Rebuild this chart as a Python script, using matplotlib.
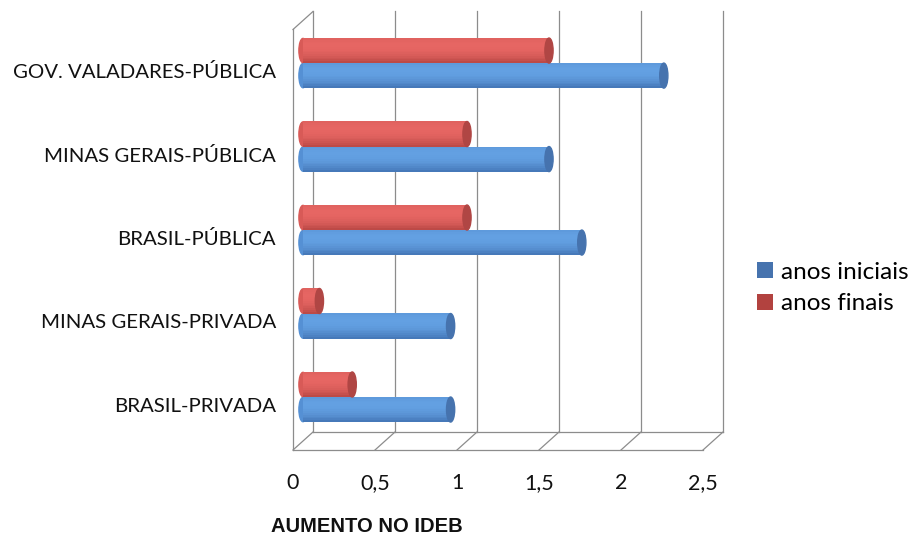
import matplotlib
matplotlib.use("Agg")
import matplotlib.pyplot as plt
import matplotlib.transforms as mtransforms
from matplotlib.patches import Ellipse, Patch
from matplotlib.lines import Line2D
import numpy as np

categories = [
    "BRASIL-PRIVADA",
    "MINAS GERAIS-PRIVADA",
    "BRASIL-PÚBLICA",
    "MINAS GERAIS-PÚBLICA",
    "GOV. VALADARES-PÚBLICA",
]
anos_iniciais = [0.9, 0.9, 1.7, 1.5, 2.2]
anos_finais = [0.3, 0.1, 1.0, 1.0, 1.5]
x_ticks = [0, 0.5, 1, 1.5, 2, 2.5]
x_tick_labels = ["0", "0,5", "1", "1,5", "2", "2,5"]
series_names = ["anos iniciais", "anos finais"]

BLUE_LIGHT, BLUE_DARK, BLUE_MID, BLUE_CAP = "#63A0E2", "#3E6EAE", "#5590D4", "#4673AE"
RED_LIGHT, RED_DARK, RED_MID, RED_CAP = "#E66663", "#B2423F", "#D85A57", "#B04644"
GRID = "#8c8c8c"
FONT = "Lato"

fig = plt.figure(figsize=(9.23, 5.36), dpi=100)
W, H = 923, 536
# axes = middle depth plane of the fake 3D box
ax = fig.add_axes([303 / W, (H - 441) / H, 410 / W, 420.5 / H])
ax.set_xlim(0, 2.5)
ax.set_ylim(-0.527, 4.51)
ax.axis("off")

back = ax.transData + mtransforms.ScaledTranslation(0.10, 0.09, fig.dpi_scale_trans)
front = ax.transData + mtransforms.ScaledTranslation(-0.10, -0.09, fig.dpi_scale_trans)
ylo, yhi = ax.get_ylim()

# back wall gridlines + floor edges
for xv in x_ticks:
    ax.plot([xv, xv], [ylo, yhi], color=GRID, lw=0.9, transform=back, clip_on=False)
ax.plot([0, 2.5], [ylo, ylo], color=GRID, lw=0.9, transform=back, clip_on=False)
ax.plot([0, 2.5], [ylo, ylo], color=GRID, lw=0.9, transform=front, clip_on=False)
ax.plot([0, 0], [ylo, yhi], color=GRID, lw=0.9, transform=front, clip_on=False)


def depth_line(xv, yv):
    p0 = front.transform((xv, yv))
    p1 = back.transform((xv, yv))
    fig.add_artist(Line2D([p0[0], p1[0]], [p0[1], p1[1]], color=GRID, lw=0.9,
                          transform=mtransforms.IdentityTransform()))


for xv in x_ticks:
    depth_line(xv, ylo)
depth_line(0, yhi)

# cylinder-like bars
bar_h = 0.3
n_strips = 14
cap_w = 0.05
y = np.arange(len(categories))


def cylinders(values, offset, light, dark, mid, cap):
    light_c = np.array(matplotlib.colors.to_rgb(light))
    dark_c = np.array(matplotlib.colors.to_rgb(dark))
    ys = y + offset
    for yc in ys:
        ax.add_patch(Ellipse((0, yc), cap_w, bar_h * 0.97, color=mid, zorder=3, clip_on=False))
    for i in range(n_strips):
        t = (i + 0.5) / n_strips  # 0 top .. 1 bottom
        f = max(0.0, 1 - ((t - 0.3) / 0.75) ** 2)
        col = dark_c + (light_c - dark_c) * f
        sy = ys + bar_h / 2 - (i + 0.5) * bar_h / n_strips
        ax.barh(sy, values, height=bar_h / n_strips * 1.05, color=col, lw=0, zorder=4)
    for yc, v in zip(ys, values):
        ax.add_patch(Ellipse((v, yc), cap_w, bar_h, color=cap, zorder=5))


cylinders(anos_iniciais, -bar_h / 2, BLUE_LIGHT, BLUE_DARK, BLUE_MID, BLUE_CAP)
cylinders(anos_finais, bar_h / 2, RED_LIGHT, RED_DARK, RED_MID, RED_CAP)

# category labels on the front plane
lab_tr = front + mtransforms.ScaledTranslation(-0.17, 0, fig.dpi_scale_trans)
for yi, name in zip(y, categories):
    ax.text(0, yi, name, transform=lab_tr, ha="right", va="center",
            fontsize=14.7, family=FONT, color="#111111")

# x tick labels below the front floor
tick_tr = front + mtransforms.ScaledTranslation(0, -0.33, fig.dpi_scale_trans)
for xv, lab in zip(x_ticks, x_tick_labels):
    ax.text(xv, ylo, lab, transform=tick_tr, ha="center", va="center",
            fontsize=15.5, family=FONT, color="#111111")

fig.text(367 / W, 1 - 527 / H, "AUMENTO NO IDEB", ha="center", va="center",
         fontsize=14.5, fontweight="bold", family="Liberation Sans", color="#111111")

handles = [Patch(facecolor=BLUE_CAP, edgecolor="none"), Patch(facecolor=RED_DARK, edgecolor="none")]
fig.legend(handles, series_names, loc="center left", bbox_to_anchor=(735 / W, 1 - 288 / H),
           frameon=False, prop={"family": FONT, "size": 17.5}, handlelength=0.65,
           handleheight=0.65, handletextpad=0.35, labelspacing=0.45)

fig.savefig("out.png", dpi=100)
